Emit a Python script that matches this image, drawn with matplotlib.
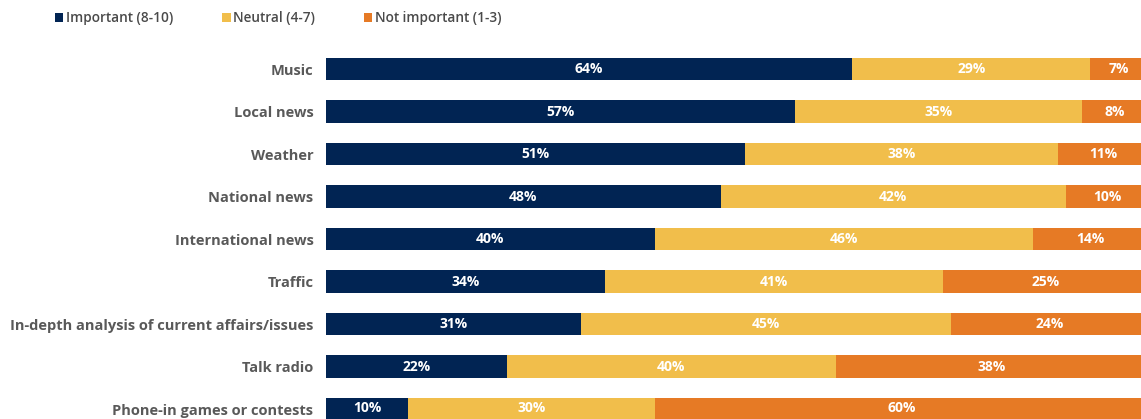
import numpy as np
import matplotlib
matplotlib.use("Agg")
import matplotlib.pyplot as plt
from matplotlib.patches import Patch

categories = ["Music", "Local news", "Weather", "National news", "International news",
              "Traffic", "In-depth analysis of current affairs/issues", "Talk radio",
              "Phone-in games or contests"]
important = [64, 57, 51, 48, 40, 34, 31, 22, 10]
neutral = [29, 35, 38, 42, 46, 41, 45, 40, 30]
not_important = [7, 8, 11, 10, 14, 25, 24, 38, 60]
series_names = ["Important (8-10)", "Neutral (4-7)", "Not important (1-3)"]
colors = ["#012453", "#F1BE4B", "#E67A25"]

plt.rcParams["font.family"] = ["Open Sans", "DejaVu Sans"]

W, H = 1141, 419
fig = plt.figure(figsize=(W / 100, H / 100), dpi=100)
ax = fig.add_axes([326 / W, 0, 822 / W, 1])

y = np.arange(len(categories))
left = np.zeros(len(categories))
for vals, name, col in zip([important, neutral, not_important], series_names, colors):
    bars = ax.barh(y, vals, left=left, height=0.52, color=col, label=name)
    ax.bar_label(bars, labels=[f"{v}%" for v in vals], label_type="center",
                 color="white", fontsize=10, fontweight="bold")
    left += np.array(vals)

ax.set_xlim(0, 100)
ax.set_ylim(8.235, -1.6235)
ax.set_yticks(y)
ax.set_yticklabels(categories, fontsize=10.5, fontweight="bold", color="#595959",
                   va="center_baseline")
ax.tick_params(axis="y", length=0, pad=9)
ax.set_xticks([])
for s in ax.spines.values():
    s.set_visible(False)

handles = [Patch(facecolor=c, label=n) for c, n in zip(colors, series_names)]
leg = fig.legend(handles=handles, loc="center left", bbox_to_anchor=(43 / W, 1 - 18 / H),
                 ncol=3, frameon=False, handlelength=0.6, handleheight=0.6,
                 handletextpad=0.2, columnspacing=3.6,
                 prop={"size": 9.8, "weight": "semibold"})
for t in leg.get_texts():
    t.set_color("#4a4a4a")

fig.savefig("out.png", dpi=100)
